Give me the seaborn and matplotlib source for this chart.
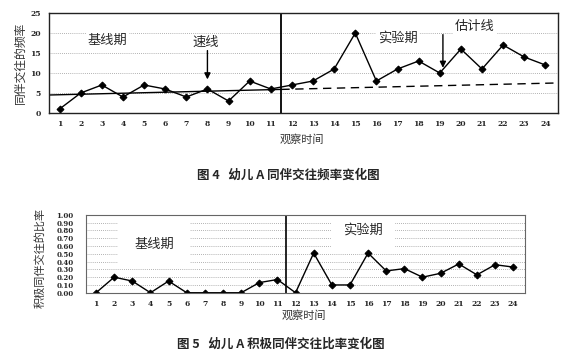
import matplotlib
matplotlib.use("Agg")
import matplotlib.pyplot as plt
import seaborn as sns
import pandas as pd

# ---- data ----
sessions = list(range(1, 25))
freq = [1, 5, 7, 4, 7, 6, 4, 6, 3, 8, 6, 7, 8, 11, 20, 8, 11, 13, 10, 16, 11, 17, 14, 12]
ratio = [0.00, 0.20, 0.15, 0.00, 0.15, 0.00, 0.00, 0.00, 0.00, 0.13, 0.17, 0.00,
         0.51, 0.10, 0.10, 0.51, 0.28, 0.31, 0.20, 0.25, 0.37, 0.23, 0.36, 0.33]
trend_x = [0.5, 11.5]
trend_y = [4.5, 5.9]
est_x = [11.5, 24.5]
est_y = [5.9, 7.5]
phase_change = 11.5
freq_ticks = [0, 5, 10, 15, 20, 25]
ratio_ticks = [0.0, 0.1, 0.2, 0.3, 0.4, 0.5, 0.6, 0.7, 0.8, 0.9, 1.0]
ratio_labels = [f"{v:.2f}" for v in ratio_ticks]

sns.set_style("white")
plt.rcParams['font.family'] = ['Noto Sans CJK SC', 'DejaVu Sans']

fig = plt.figure(figsize=(5.7, 3.57), dpi=100)

tickfont = dict(family='DejaVu Serif', size=5.5, weight='bold')
grid_kw = dict(color='#999999', linestyle=(0, (1, 1.5)), linewidth=0.6)

# ---------- chart 1 ----------
ax1 = fig.add_axes([0.086, 0.6835, 0.893, 0.280])
df1 = pd.DataFrame({'t': sessions, 'f': freq})
ax1.set_axisbelow(True)
for v in freq_ticks[1:-1]:
    ax1.axhline(v, zorder=0, **grid_kw)
sns.lineplot(data=df1, x='t', y='f', ax=ax1, color='black', marker='D',
             markersize=3.5, markeredgecolor='black', linewidth=1.0, zorder=3)
ax1.plot(trend_x, trend_y, color='black', linewidth=1.0, zorder=2)
ax1.plot(est_x, est_y, color='black', linewidth=1.0, linestyle=(0, (6, 4)), zorder=2)
ax1.axvline(phase_change, color='black', linewidth=1.3, zorder=4)
ax1.set_xlim(0.5, 24.6)
ax1.set_ylim(0, 25)
ax1.set_xticks(sessions)
ax1.set_xticklabels([str(s) for s in sessions], fontdict=tickfont)
ax1.set_yticks(freq_ticks)
ax1.set_yticklabels([str(v) for v in freq_ticks], fontdict=tickfont)
ax1.tick_params(axis='both', length=0)
ax1.tick_params(axis='x', pad=5)
ax1.tick_params(axis='y', pad=6)
for s in ax1.spines.values():
    s.set_color('#222222')
    s.set_linewidth(1.0)
    s.set_zorder(6)
ax1.set_xlabel('')
ax1.set_ylabel('')
fig.text(0.035, 0.823, '同伴交往的频率', rotation=90, ha='center', va='center',
         fontsize=8.5, color='#333333')
fig.text(0.53, 0.61, '观察时间', ha='center', va='center', fontsize=8, color='#333333')
box = dict(boxstyle='square,pad=0.15', facecolor='white', edgecolor='none')
ax1.text(3.27, 18.25, '基线期', ha='center', va='center', fontsize=9.5, bbox=box, zorder=2.6)
ax1.text(7.9, 17.6, '速线', ha='center', va='center', fontsize=9.5, bbox=box, zorder=2.6)
ax1.text(17.0, 18.8, '实验期', ha='center', va='center', fontsize=9.5, bbox=box, zorder=2.6)
ax1.text(20.67, 21.6, '估计线', ha='center', va='center', fontsize=9.5, bbox=box, zorder=2.6)
ax1.annotate('', xy=(8, 7.7), xytext=(8, 16.3),
             arrowprops=dict(arrowstyle='-|>', color='black', lw=1.0, mutation_scale=9))
ax1.annotate('', xy=(19.15, 10.6), xytext=(19.15, 20.3),
             arrowprops=dict(arrowstyle='-|>', color='black', lw=1.0, mutation_scale=9))

fig.text(0.505, 0.51, '图 4   幼儿 A 同伴交往频率变化图', ha='center', va='center',
         fontsize=9, weight='bold')

# ---------- chart 2 ----------
ax2 = fig.add_axes([0.151, 0.180, 0.770, 0.218])
df2 = pd.DataFrame({'t': sessions, 'r': ratio})
for v in ratio_ticks[1:-1]:
    ax2.axhline(v, zorder=0, **grid_kw)
sns.lineplot(data=df2, x='t', y='r', ax=ax2, color='black', marker='D',
             markersize=3.5, markeredgecolor='black', linewidth=1.0, zorder=3)
ax2.axvline(phase_change, color='black', linewidth=1.2, zorder=4)
ax2.set_xlim(0.45, 24.65)
ax2.set_ylim(0, 1.0)
ax2.set_xticks(sessions)
ax2.set_xticklabels([str(s) for s in sessions], fontdict=tickfont)
ax2.set_yticks(ratio_ticks)
ax2.set_yticklabels(ratio_labels, fontdict=dict(family='DejaVu Serif', size=5, weight='bold'))
ax2.tick_params(axis='both', length=0)
ax2.tick_params(axis='x', pad=5)
ax2.tick_params(axis='y', pad=9)
for s in ax2.spines.values():
    s.set_color('#666666')
    s.set_linewidth(0.8)
    s.set_zorder(6)
ax2.set_xlabel('')
ax2.set_ylabel('')
box2 = dict(boxstyle='square,pad=1.2', facecolor='white', edgecolor='none')
box3 = dict(boxstyle='square,pad=0.9', facecolor='white', edgecolor='none')
ax2.text(4.2, 0.62, '基线期', ha='center', va='center', fontsize=9.5, bbox=box2, zorder=2.6)
ax2.text(15.73, 0.8, '实验期', ha='center', va='center', fontsize=9.5, bbox=box3, zorder=2.6)
fig.text(0.07, 0.277, '积极同伴交往的比率', rotation=90, ha='center', va='center',
         fontsize=8, color='#333333')
fig.text(0.533, 0.115, '观察时间', ha='center', va='center', fontsize=8, color='#333333')

fig.text(0.493, 0.036, '图 5   幼儿 A 积极同伴交往比率变化图', ha='center', va='center',
         fontsize=9, weight='bold')

fig.savefig('out.png', dpi=100)
